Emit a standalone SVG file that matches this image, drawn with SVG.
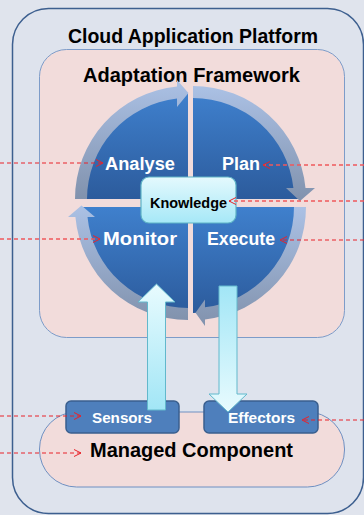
<svg xmlns="http://www.w3.org/2000/svg" width="364" height="515" viewBox="0 0 364 515">
  <defs>
    <linearGradient id="gBlue" x1="0" y1="0" x2="0" y2="1">
      <stop offset="0" stop-color="#3f80cd"/>
      <stop offset="1" stop-color="#2c5b9c"/>
    </linearGradient>
    <linearGradient id="gRing" x1="0" y1="0" x2="0" y2="1">
      <stop offset="0" stop-color="#abc1e5"/>
      <stop offset="1" stop-color="#8192ad"/>
    </linearGradient>
    <linearGradient id="gKnow" x1="0" y1="0" x2="0" y2="1">
      <stop offset="0" stop-color="#e4f9fd"/>
      <stop offset="1" stop-color="#a6e8f7"/>
    </linearGradient>
    <linearGradient id="gUp" x1="0" y1="0" x2="0" y2="1">
      <stop offset="0" stop-color="#e8fbfe"/>
      <stop offset="1" stop-color="#a2e6f6"/>
    </linearGradient>
    <linearGradient id="gDown" x1="0" y1="0" x2="0" y2="1">
      <stop offset="0" stop-color="#a2e6f6"/>
      <stop offset="1" stop-color="#e8fbfe"/>
    </linearGradient>
    <marker id="chev" viewBox="0 0 8 8" refX="7.5" refY="4" markerWidth="8" markerHeight="8" markerUnits="userSpaceOnUse" orient="auto">
      <path d="M0.5,0.5 L7.5,4 L0.5,7.5" fill="none" stroke="#e8232a" stroke-width="1"/>
    </marker>
    <style>
      .title { font-family: "Liberation Sans", Arial, sans-serif; font-weight: bold; font-size: 19.5px; fill: #000; text-anchor: middle; }
      .phase { font-family: "Liberation Sans", Arial, sans-serif; font-weight: bold; font-size: 18px; fill: #fff; text-anchor: middle; }
      .port { font-family: "Liberation Sans", Arial, sans-serif; font-weight: bold; font-size: 15.5px; fill: #fff; text-anchor: middle; }
      .know { font-family: "Liberation Sans", Arial, sans-serif; font-weight: bold; font-size: 14.5px; fill: #000; text-anchor: middle; }
      .quad { fill: url(#gBlue); }
      .ring { fill: url(#gRing); }
      .block { stroke: #62b8cc; stroke-width: 1; }
      .portbox { fill: #4e7fbc; stroke: #3a5f8e; stroke-width: 1.5; }
      .probe { fill: none; stroke: #e8232a; stroke-width: 1; stroke-dasharray: 4 3; marker-end: url(#chev); }
      .probe.soft { stroke: #f0585c; stroke-width: 1.5; }
    </style>
  </defs>

  <!-- page -->
  <rect x="0" y="0" width="364" height="515" fill="#e0e4ed"/>

  <!-- platform container -->
  <g id="platform">
    <rect x="12.5" y="8.5" width="351" height="505" rx="36" fill="#dee3ed" stroke="#3d5f8f" stroke-width="1.5"/>
    <text class="title" x="193" y="43" textLength="250" lengthAdjust="spacingAndGlyphs">Cloud Application Platform</text>
  </g>

  <!-- adaptation framework container -->
  <g id="framework">
    <rect x="39.5" y="49.5" width="305" height="288" rx="27" fill="#f2dcdb" stroke="#7d9cc9" stroke-width="1"/>
    <text class="title" x="191.5" y="82" textLength="217" lengthAdjust="spacingAndGlyphs">Adaptation Framework</text>
  </g>

  <!-- managed component -->
  <g id="managed">
    <rect x="39.5" y="412" width="305" height="75" rx="37" fill="#f2dcdb" stroke="#6f90c2" stroke-width="1"/>
    <text class="title" x="191.5" y="457" textLength="203" lengthAdjust="spacingAndGlyphs">Managed Component</text>
  </g>

  <!-- MAPE-K quadrants -->
  <g id="analyse">
    <path class="quad" d="M188,199 L82,199 A106,106 0 0 1 188,93 Z"/>
    <text class="phase" x="140" y="170" textLength="70" lengthAdjust="spacingAndGlyphs">Analyse</text>
  </g>
  <g id="plan">
    <path class="quad" d="M193,199 L193,93 A106,106 0 0 1 299,199 Z"/>
    <text class="phase" x="241" y="170" textLength="38" lengthAdjust="spacingAndGlyphs">Plan</text>
  </g>
  <g id="execute">
    <path class="quad" d="M193,207 L299,207 A106,106 0 0 1 193,313 Z"/>
    <text class="phase" x="241" y="245" textLength="68" lengthAdjust="spacingAndGlyphs">Execute</text>
  </g>
  <g id="monitor">
    <path class="quad" d="M188,207 L188,313 A106,106 0 0 1 82,207 Z"/>
    <text class="phase" x="140" y="245" textLength="74" lengthAdjust="spacingAndGlyphs">Monitor</text>
  </g>

  <g id="connectors">
    <!-- cycle arrows around the loop -->
    <path class="ring" d="M75,199 A113,113 0 0 1 177,86.5 L177,80 L188.5,93 L177,107 L177,98.6 A101,101 0 0 0 87,199 Z"/>
    <path class="ring" d="M193,86 A113,113 0 0 1 305.5,188 L315,188 L300,201 L286,188 L293.4,188 A101,101 0 0 0 193,98 Z"/>
    <path class="ring" d="M306,207 A113,113 0 0 1 205,319.4 L205,326 L195.5,312.8 L205,299.5 L205,307.3 A101,101 0 0 0 294,207 Z"/>
    <path class="ring" d="M188,320 A113,113 0 0 1 75.4,217 L68,217 L81.5,205.5 L95,217 L87.5,217 A101,101 0 0 0 188,308 Z"/>
  </g>

  <!-- shared knowledge -->
  <g id="knowledge">
    <rect x="141" y="177" width="95" height="46" rx="8" fill="url(#gKnow)" stroke="#5fb3c6" stroke-width="1.2"/>
    <text class="know" x="188.5" y="208" textLength="77" lengthAdjust="spacingAndGlyphs">Knowledge</text>
  </g>

  <!-- touchpoints -->
  <g id="sensors">
    <rect class="portbox" x="66" y="401" width="113" height="32" rx="5"/>
  </g>
  <g id="effectors">
    <rect class="portbox" x="204" y="401" width="114" height="32" rx="5"/>
  </g>

  <g id="flow-connectors">
    <!-- sensors feed monitor, execute drives effectors -->
    <polygon class="block" fill="url(#gUp)" points="156.5,284 175,302 165.5,302 165.5,410 147.5,410 147.5,302 138,302"/>
    <polygon class="block" fill="url(#gDown)" points="219,286 237,286 237,394 247,394 228,412 209,394 219,394"/>
  </g>

  <g id="port-labels">
    <text class="port" x="122" y="423" textLength="60" lengthAdjust="spacingAndGlyphs">Sensors</text>
    <text class="port" x="261.5" y="423" textLength="67" lengthAdjust="spacingAndGlyphs">Effectors</text>
  </g>

  <!-- external probes -->
  <g id="probe-connectors">
    <path class="probe" d="M0,163 H103"/>
    <path class="probe soft" d="M364,165 H263"/>
    <path class="probe soft" d="M364,201 H229"/>
    <path class="probe soft" d="M0,239 H100"/>
    <path class="probe" d="M364,240 H280"/>
    <path class="probe" d="M0,416 H81"/>
    <path class="probe" d="M364,420 H302"/>
    <path class="probe" d="M0,453 H81"/>
  </g>
</svg>
